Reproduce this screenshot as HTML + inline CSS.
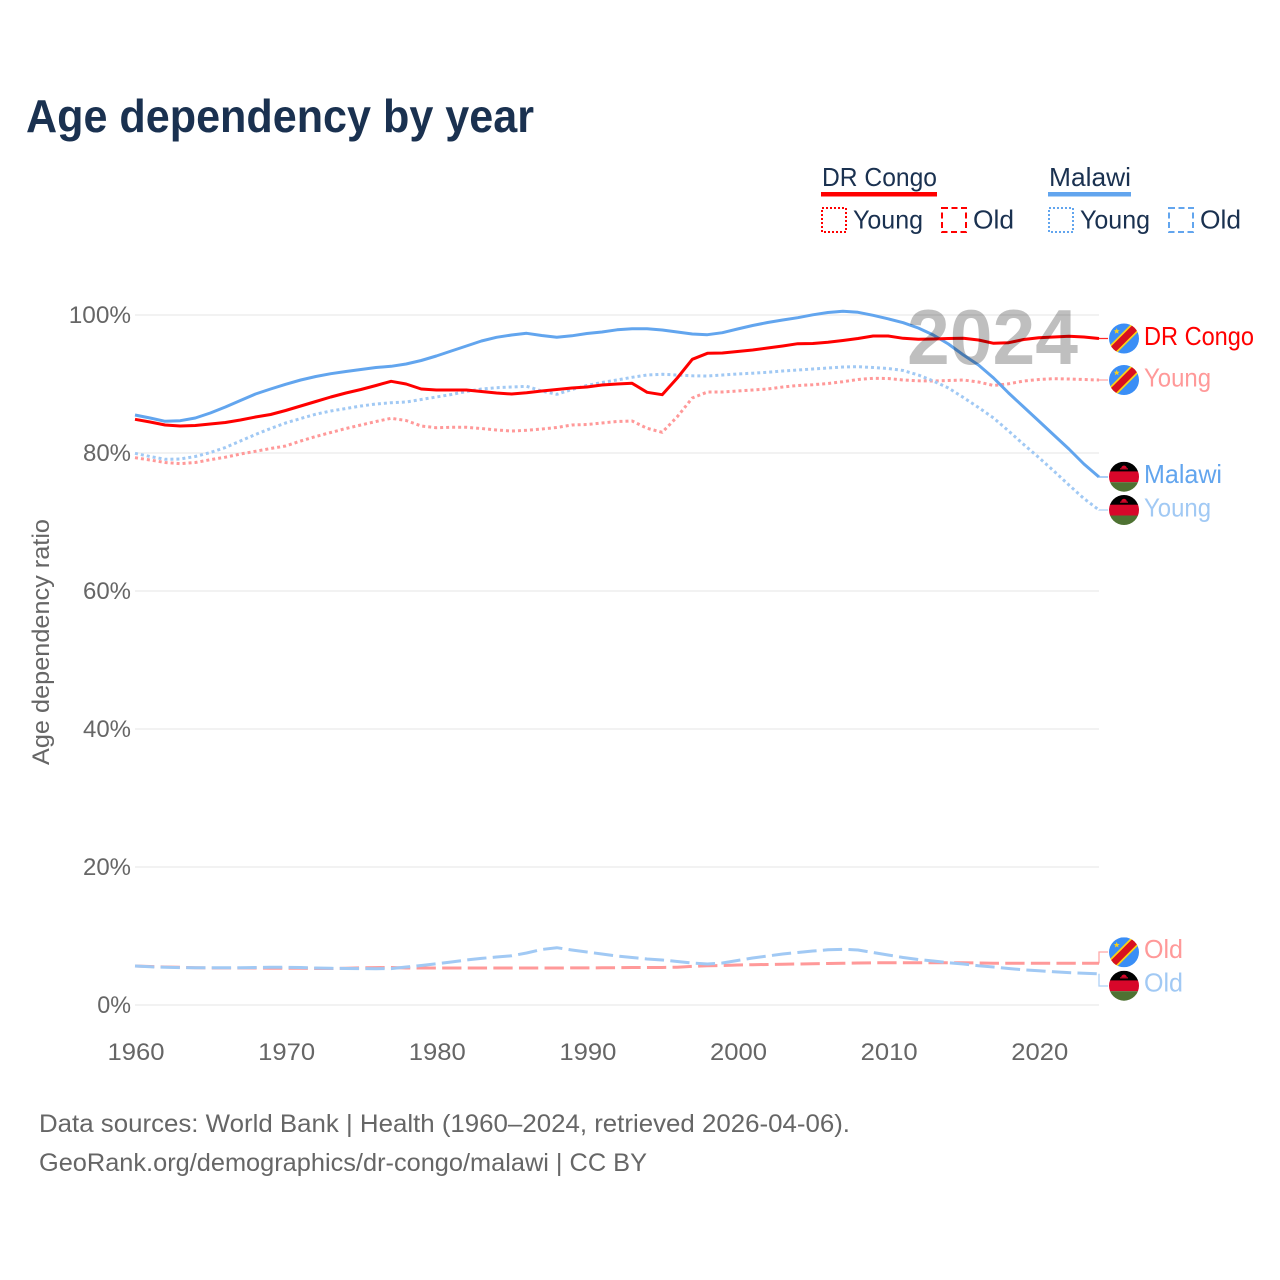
<!DOCTYPE html>
<html lang="en">
<head>
<meta charset="utf-8">
<title>Age dependency by year</title>
<style>
html,body{margin:0;padding:0;background:#fff;}
svg{display:block;font-family:"Liberation Sans",Arial,sans-serif;}
.legend{font-size:26px;fill:#1a3150;}
.tick{font-size:24px;fill:#666;}
.foot{font-size:25px;fill:#666;}
.end{font-size:26px;}
</style>
</head>
<body>
<svg id="chart" width="1280" height="1280" viewBox="0 0 1280 1280" xmlns="http://www.w3.org/2000/svg">
  <rect x="0" y="0" width="1280" height="1280" fill="#fff"/>
  <text x="26" y="132" font-size="46" font-weight="700" fill="#1a3150" textLength="508" lengthAdjust="spacingAndGlyphs">Age dependency by year</text>

  <g>
    <text class="legend" x="822" y="186" textLength="115" lengthAdjust="spacingAndGlyphs">DR Congo</text>
    <rect x="821" y="192" width="116" height="4.5" fill="#ff0000"/>
    <rect x="822" y="208" width="24" height="24" fill="none" stroke="#ff0000" stroke-width="2" stroke-dasharray="2 2"/>
    <text class="legend" x="853" y="228.5" textLength="70" lengthAdjust="spacingAndGlyphs">Young</text>
    <rect x="942" y="208" width="24" height="24" fill="none" stroke="#ff0000" stroke-width="2" stroke-dasharray="6 3.5"/>
    <text class="legend" x="973" y="228.5" textLength="41" lengthAdjust="spacingAndGlyphs">Old</text>

    <text class="legend" x="1049" y="186" textLength="82" lengthAdjust="spacingAndGlyphs">Malawi</text>
    <rect x="1048" y="192" width="83" height="4.5" fill="#62a5ee"/>
    <rect x="1049" y="208" width="24" height="24" fill="none" stroke="#62a5ee" stroke-width="2" stroke-dasharray="2 2"/>
    <text class="legend" x="1080" y="228.5" textLength="70" lengthAdjust="spacingAndGlyphs">Young</text>
    <rect x="1169" y="208" width="24" height="24" fill="none" stroke="#62a5ee" stroke-width="2" stroke-dasharray="6 3.5"/>
    <text class="legend" x="1200" y="228.5" textLength="41" lengthAdjust="spacingAndGlyphs">Old</text>
  </g>

  <g id="grid"></g>
  <g id="yaxis"></g>
  <g id="xaxis"></g>
  <text class="tick" transform="translate(49 642) rotate(-90)" text-anchor="middle" textLength="246" lengthAdjust="spacingAndGlyphs">Age dependency ratio</text>
  <g id="series"></g>

  <text x="1078" y="364" text-anchor="end" font-size="78" font-weight="700" fill="#000" fill-opacity="0.25" textLength="171" lengthAdjust="spacingAndGlyphs">2024</text>

  <defs>
    <clipPath id="flagClip"><circle cx="0" cy="0" r="15"/></clipPath>
    <g id="flagCongo">
      <g clip-path="url(#flagClip)">
        <rect x="-15" y="-15" width="30" height="30" fill="#3a8ef6"/>
        <line x1="-17" y1="17" x2="17" y2="-17" stroke="#fcd116" stroke-width="10.5"/>
        <line x1="-17" y1="17" x2="17" y2="-17" stroke="#d8101f" stroke-width="7"/>
      </g>
      <polygon points="-7.3,-10.4 -6.5,-8.3 -4.3,-8.2 -6,-6.9 -5.4,-4.8 -7.3,-6 -9.2,-4.8 -8.6,-6.9 -10.3,-8.2 -8.1,-8.3" fill="#fcd116"/>
    </g>
    <g id="flagMalawi">
      <g clip-path="url(#flagClip)">
        <rect x="-15" y="-15" width="30" height="10" fill="#000"/>
        <rect x="-15" y="-5.3" width="30" height="10.8" fill="#d8072a"/>
        <rect x="-15" y="5.5" width="30" height="10" fill="#4e7232"/>
        <path d="M-2.8,-8.4 A2.8,2.8 0 0 1 2.8,-8.4 Z" fill="#d8072a"/>
        <rect x="-4" y="-8.4" width="8" height="1.1" fill="#d8072a"/>
      </g>
    </g>
  </defs>

  <g>
    <use href="#flagCongo" x="1124" y="338.5"/>
    <text class="end" x="1144" y="345" fill="#ff0000" textLength="110" lengthAdjust="spacingAndGlyphs">DR Congo</text>
    <use href="#flagCongo" x="1124" y="380"/>
    <text class="end" x="1144" y="386.5" fill="#ff9999" textLength="67" lengthAdjust="spacingAndGlyphs">Young</text>
    <use href="#flagMalawi" x="1124" y="476.7"/>
    <text class="end" x="1144" y="483" fill="#62a5ee" textLength="78" lengthAdjust="spacingAndGlyphs">Malawi</text>
    <use href="#flagMalawi" x="1124" y="510"/>
    <text class="end" x="1144" y="516.5" fill="#a1c9f4" textLength="67" lengthAdjust="spacingAndGlyphs">Young</text>
    <use href="#flagCongo" x="1124" y="952.3"/>
    <text class="end" x="1144" y="958" fill="#ff9999" textLength="39" lengthAdjust="spacingAndGlyphs">Old</text>
    <use href="#flagMalawi" x="1124" y="985.7"/>
    <text class="end" x="1144" y="991.5" fill="#a1c9f4" textLength="39" lengthAdjust="spacingAndGlyphs">Old</text>
  </g>

  <g>
    <text class="foot" x="39" y="1132" textLength="811" lengthAdjust="spacingAndGlyphs">Data sources: World Bank | Health (1960–2024, retrieved 2026-04-06).</text>
    <text class="foot" x="39" y="1171" textLength="608" lengthAdjust="spacingAndGlyphs">GeoRank.org/demographics/dr-congo/malawi | CC BY</text>
  </g>
</svg>

<script>
const years = [1960,1961,1962,1963,1964,1965,1966,1967,1968,1969,1970,1971,1972,1973,1974,1975,1976,1977,1978,1979,1980,1981,1982,1983,1984,1985,1986,1987,1988,1989,1990,1991,1992,1993,1994,1995,1996,1997,1998,1999,2000,2001,2002,2003,2004,2005,2006,2007,2008,2009,2010,2011,2012,2013,2014,2015,2016,2017,2018,2019,2020,2021,2022,2023,2024];
const xTickYears = [1960,1970,1980,1990,2000,2010,2020];
const yTickValues = [0,20,40,60,80,100];

const congoTotal = [84.88,84.49,84.06,83.91,83.99,84.2,84.42,84.78,85.22,85.58,86.16,86.81,87.46,88.12,88.7,89.2,89.78,90.39,90.0,89.28,89.13,89.13,89.13,88.91,88.7,88.55,88.74,88.99,89.2,89.42,89.57,89.86,90.0,90.1,88.8,88.45,90.87,93.58,94.45,94.49,94.71,94.93,95.22,95.51,95.84,95.87,96.04,96.3,96.59,96.96,96.96,96.62,96.48,96.52,96.59,96.62,96.38,95.9,95.99,96.45,96.71,96.81,96.91,96.81,96.59];
const malawiTotal = [85.51,85.07,84.59,84.68,85.07,85.8,86.67,87.61,88.55,89.28,89.96,90.58,91.09,91.49,91.81,92.1,92.39,92.57,92.9,93.41,94.06,94.78,95.51,96.23,96.77,97.1,97.35,97.03,96.77,96.99,97.32,97.54,97.86,98.01,98.0,97.83,97.54,97.25,97.14,97.43,97.97,98.48,98.91,99.28,99.61,100.03,100.36,100.54,100.39,99.96,99.45,98.88,98.12,97.1,95.8,94.2,92.75,90.87,88.7,86.67,84.64,82.61,80.58,78.41,76.52];
const congoYoung = [79.32,78.99,78.62,78.45,78.62,79.03,79.39,79.86,80.25,80.65,81.01,81.74,82.39,82.97,83.55,84.06,84.57,85.03,84.71,83.91,83.67,83.72,83.72,83.55,83.33,83.19,83.29,83.48,83.7,84.06,84.13,84.35,84.57,84.64,83.58,83.0,85.26,87.97,88.84,88.84,88.99,89.13,89.28,89.57,89.78,89.9,90.07,90.33,90.65,90.83,90.8,90.58,90.46,90.43,90.51,90.58,90.29,89.78,90.03,90.43,90.65,90.77,90.72,90.65,90.58];
const malawiYoung = [79.96,79.49,79.09,79.13,79.49,80.07,80.8,81.74,82.68,83.55,84.35,85.0,85.62,86.09,86.45,86.81,87.1,87.29,87.39,87.75,88.12,88.48,88.91,89.28,89.46,89.57,89.67,88.99,88.51,89.2,89.78,90.22,90.58,90.97,91.3,91.41,91.3,91.19,91.16,91.3,91.45,91.57,91.7,91.88,92.03,92.17,92.32,92.46,92.51,92.39,92.25,91.96,91.3,90.43,89.42,88.04,86.59,85.07,83.19,81.23,79.35,77.39,75.36,73.41,71.74];
const congoOld = [5.65,5.58,5.51,5.46,5.41,5.36,5.36,5.36,5.36,5.33,5.33,5.33,5.29,5.29,5.32,5.39,5.42,5.43,5.36,5.36,5.36,5.36,5.36,5.36,5.36,5.36,5.36,5.36,5.36,5.37,5.38,5.39,5.41,5.43,5.43,5.43,5.48,5.61,5.68,5.72,5.8,5.84,5.87,5.91,5.94,5.97,6.01,6.04,6.09,6.12,6.13,6.13,6.13,6.13,6.12,6.12,6.09,6.06,6.06,6.06,6.04,6.04,6.04,6.04,6.04];
const malawiOld = [5.65,5.54,5.46,5.42,5.39,5.39,5.39,5.41,5.43,5.46,5.46,5.43,5.36,5.32,5.29,5.28,5.26,5.28,5.51,5.72,5.97,6.23,6.52,6.75,6.96,7.13,7.54,8.04,8.3,7.97,7.68,7.39,7.1,6.88,6.67,6.52,6.3,6.09,5.94,6.09,6.45,6.81,7.1,7.39,7.61,7.83,8.0,8.07,7.97,7.61,7.25,6.88,6.59,6.38,6.13,5.94,5.7,5.51,5.29,5.1,4.97,4.81,4.7,4.61,4.52];

const SVGNS = 'http://www.w3.org/2000/svg';
const PLOT = {left: 135, right: 1099, top: 315, bottom: 1005};
function xScale(year) {
  return PLOT.left + (year - 1960) / (2024 - 1960) * (PLOT.right - PLOT.left);
}
function yScale(value) {
  return PLOT.bottom - value / 100 * (PLOT.bottom - PLOT.top);
}
function make(tag, attrs) {
  const el = document.createElementNS(SVGNS, tag);
  for (const key in attrs) el.setAttribute(key, attrs[key]);
  return el;
}

const gridGroup = document.getElementById('grid');
const yAxisGroup = document.getElementById('yaxis');
const xAxisGroup = document.getElementById('xaxis');
const seriesGroup = document.getElementById('series');

yTickValues.forEach(function (value) {
  const gridline = make('line', {x1: PLOT.left, x2: PLOT.right, y1: yScale(value), y2: yScale(value), stroke: '#eeeeee', 'stroke-width': 1.5});
  
  
  gridGroup.appendChild(gridline);

  const tickText = String(value) + '%';
  const label = make('text', {x: 131, y: yScale(value) + 8, 'text-anchor': 'end', class: 'tick', textLength: 14.25 * String(value).length + 19.5, lengthAdjust: 'spacingAndGlyphs'});
  
  
  label.textContent = tickText;
  yAxisGroup.appendChild(label);
});

xTickYears.forEach(function (year) {
  const label = make('text', {x: xScale(year) + 1, y: 1060, 'text-anchor': 'middle', class: 'tick', textLength: 57, lengthAdjust: 'spacingAndGlyphs'});
  
  
  label.textContent = String(year);
  xAxisGroup.appendChild(label);
});

function drawSeries(name, values, color, width, dash, endY) {
  const points = values.map(function (value, i) {
    return xScale(years[i]).toFixed(1) + ',' + yScale(value).toFixed(1);
  });
  const attrs = {points: points.join(' '), fill: 'none', stroke: color, 'stroke-width': width, 'stroke-linejoin': 'round'};
  if (dash) attrs['stroke-dasharray'] = dash;
  const line = make('polyline', attrs);
  
  
  seriesGroup.appendChild(line);

  const lastX = xScale(years[years.length - 1]);
  const lastY = yScale(values[values.length - 1]);
  const leader = make('polyline', {points: lastX + ',' + lastY + ' ' + lastX + ',' + endY + ' ' + (lastX + 9) + ',' + endY, fill: 'none', stroke: color, 'stroke-width': 1.3, 'stroke-opacity': 0.85});
  
  
  seriesGroup.appendChild(leader);
}

drawSeries('dr-congo-old', congoOld, '#ff9999', 3, '19.3 6.3', 952);
drawSeries('malawi-old', malawiOld, '#a1c9f4', 3, '19.3 6.3', 986);
drawSeries('dr-congo-young', congoYoung, '#ff9999', 3, '3 3', 380);
drawSeries('malawi-young', malawiYoung, '#a1c9f4', 3, '3 3', 510);
drawSeries('malawi-total', malawiTotal, '#62a5ee', 3, '', 477);
drawSeries('dr-congo-total', congoTotal, '#ff0000', 3, '', 338.5);
</script>
</body>
</html>
